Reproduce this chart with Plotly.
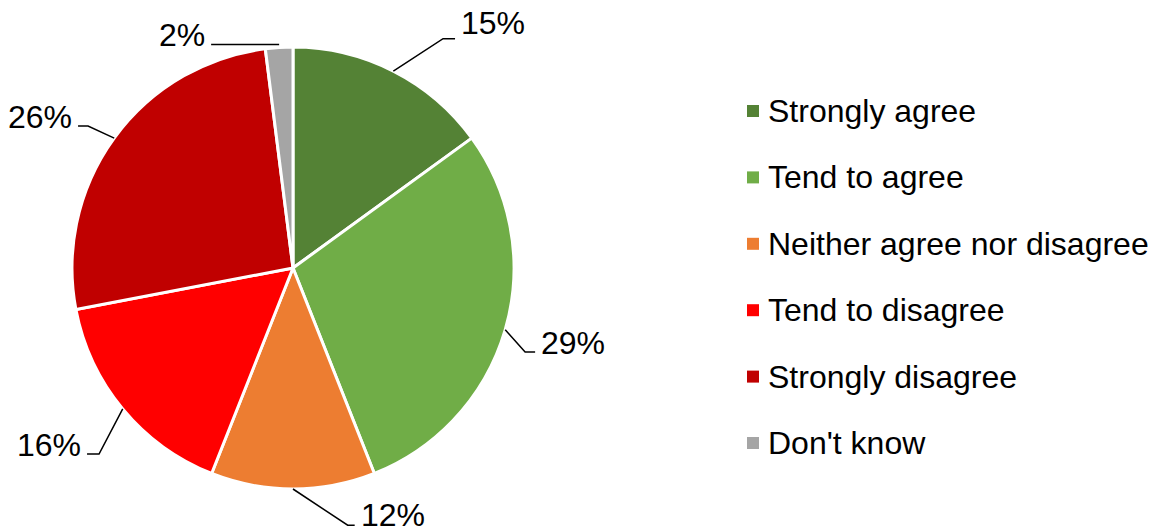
import math
import plotly.graph_objects as go

# ---------------- data ----------------
categories = ["Strongly agree", "Tend to agree", "Neither agree nor disagree",
              "Tend to disagree", "Strongly disagree", "Don't know"]
values = [15, 29, 12, 16, 26, 2]
colors = ["#548235", "#70AD47", "#ED7D31", "#FF0000", "#C00000", "#A5A5A5"]

# ---------------- layout settings ----------------
W, H = 1152, 532
CX, CY, R = 293, 268, 221          # pie centre / radius in pixels
FONT = "Liberation Sans, Arial, sans-serif"
FS = 32
# per-label leader: elbow angle (deg, None = at slice edge), elbow radius factor,
# horizontal segment length (px), text vertical offset (px)
leader = [
    (33.2, 1.24, 12, -16),
    (109.9, 1.117, 10, -9),
    (168.0, 1.19, 7, -10),
    (226.2, 1.216, 12, -9),
    (304.7, 1.128, 10, -9),
    (None, 1.0, 68, -9),
]
LEG_X, LEG_Y0, LEG_DY, SQ = 753, 111, 66.4, 12


def px(x):
    return x / W


def py(y):
    return 1 - y / H


fig = go.Figure(go.Pie(
    labels=categories, values=values, sort=False, direction="clockwise",
    rotation=0, textinfo="none", hoverinfo="label+percent",
    marker=dict(colors=colors, line=dict(color="white", width=3)),
    domain=dict(x=[px(CX - R), px(CX + R)], y=[py(CY + R), py(CY - R)]),
    showlegend=False,
))

shapes, annotations = [], []
total = sum(values)
cum = 0
for i, v in enumerate(values):
    mid = (cum + v / 2) / total * 360
    cum += v
    a = math.radians(mid)
    ex, ey = CX + R * math.sin(a), CY - R * math.cos(a)
    ang, k, hl, toff = leader[i]
    if ang is None:
        bx, by = ex, ey - 3
        ex, ey = bx, by
    else:
        b = math.radians(ang)
        bx, by = CX + R * k * math.sin(b), CY - R * k * math.cos(b)
    right = bx > CX
    endx = bx + hl if right else bx - hl
    shapes.append(dict(
        type="path", xref="paper", yref="paper",
        path=f"M {px(ex)},{py(ey)} L {px(bx)},{py(by)} L {px(endx)},{py(by)}",
        line=dict(color="black", width=1.5)))
    annotations.append(dict(
        x=px(endx + (4 if right else -4)), y=py(by + toff),
        xref="paper", yref="paper", text=f"{v}%", showarrow=False,
        xanchor="left" if right else "right", yanchor="middle",
        font=dict(family=FONT, size=FS, color="black")))

# manual legend
for i, (c, lab) in enumerate(zip(colors, categories)):
    yc = LEG_Y0 + i * LEG_DY
    shapes.append(dict(
        type="rect", xref="paper", yref="paper",
        x0=px(LEG_X - SQ / 2), x1=px(LEG_X + SQ / 2),
        y0=py(yc + SQ / 2), y1=py(yc - SQ / 2),
        fillcolor=c, line=dict(width=0)))
    annotations.append(dict(
        x=px(LEG_X + 13), y=py(yc), xref="paper", yref="paper",
        text=lab, showarrow=False, xanchor="left", yanchor="middle",
        font=dict(family=FONT, size=FS, color="black")))

fig.update_layout(
    width=W, height=H, margin=dict(l=0, r=0, t=0, b=0),
    paper_bgcolor="white", plot_bgcolor="white",
    shapes=shapes, annotations=annotations,
)

fig.write_html("out.html", config={"displayModeBar": False},
               post_script="document.body.style.margin='0';"
                           "document.body.style.overflow='hidden';")
